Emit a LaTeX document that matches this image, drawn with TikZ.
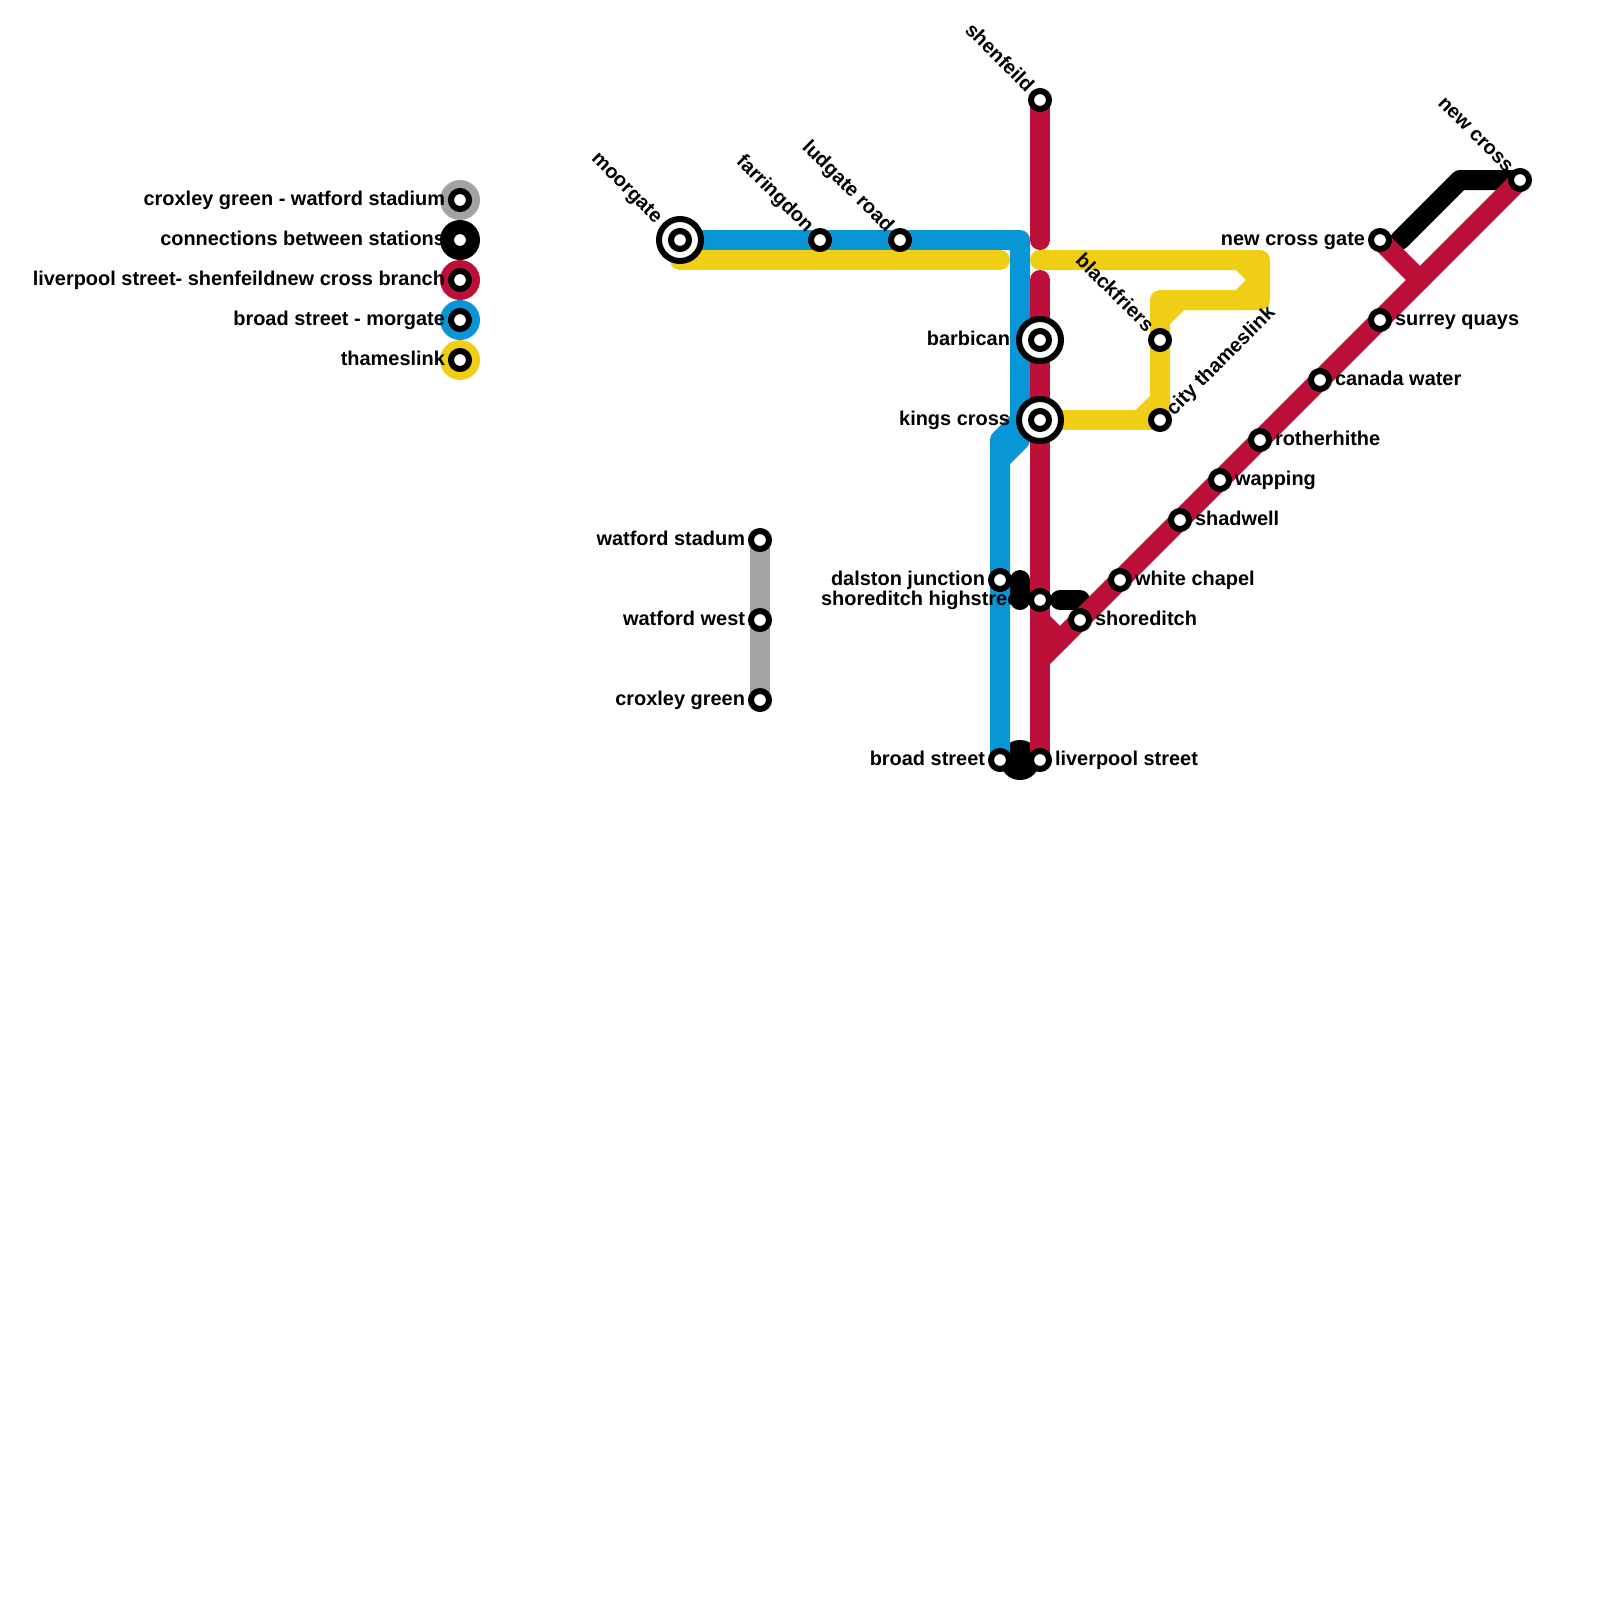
\documentclass[tikz,border=0pt]{standalone}
\usepackage{fontspec}
\setmainfont{Liberation Sans}
\pgfdeclarelayer{conn}
\pgfdeclarelayer{lines}
\pgfsetlayers{conn,lines,main}
\definecolor{lred}{HTML}{BD1038}
\definecolor{lblue}{HTML}{0896D7}
\definecolor{lyellow}{HTML}{F0CE15}
\definecolor{lgrey}{HTML}{A3A3A3}
\tikzset{
  x=0.025cm,y=-0.025cm,
  stn/.style={circle,draw=black,fill=white,line width=0.15cm,minimum size=0.45cm,inner sep=0pt,outer sep=0pt},
  ichange/.style={circle,draw=black,fill=white,line width=0.15cm,minimum size=1.05cm,inner sep=0pt,outer sep=0pt,
    path picture={\draw[black,line width=0.15cm] (path picture bounding box.center) circle (0.225cm);}},
  swatch/.style={circle,minimum size=1cm,inner sep=0pt,outer sep=0pt,fill=#1},
  lab/.style={inner sep=0pt,outer sep=0pt,text=black,font=\fontsize{14.18}{16}\selectfont\bfseries},
  labl/.style={lab,anchor=base east},
  labr/.style={lab,anchor=base west},
  labtl/.style={lab,anchor=base east,rotate=-45},
  labtr/.style={lab,anchor=base west,rotate=45},
  route/.style={line width=0.5cm,line cap=round,line join=round,draw=#1},
  link/.style={line width=0.5cm,line cap=round,line join=round,draw=black},
  linkhub/.style={circle,minimum size=1cm,inner sep=0pt,outer sep=0pt,fill=black},
}
\begin{document}
\begin{tikzpicture}
\useasboundingbox (0,0) rectangle (1600,1600);
% legend swatches
\node[swatch=lgrey] (swgrey) at (460,200) {};
\node[swatch=black] (swblack) at (460,240) {};
\node[swatch=lred] (swred) at (460,280) {};
\node[swatch=lblue] (swblue) at (460,320) {};
\node[swatch=lyellow] (swyellow) at (460,360) {};
% legend labels
\node[labl] (lgA) at (445,205) {croxley green - watford stadium};
\node[labl] (lgB) at (445,245) {connections between stations};
\node[labl] (lgC) at (445,285) {liverpool street- shenfeildnew cross branch};
\node[labl] (lgD) at (445,325) {broad street - morgate};
\node[labl] (lgE) at (445,365) {thameslink};
% station labels
\node[labtl] (tMoor) at (655,224) {moorgate};
\node[labtl] (tFarr) at (806,233) {farringdon};
\node[labtl] (tLud) at (886,233) {ludgate road};
\node[labtl] (tShen) at (1026,93) {shenfeild};
\node[labtl] (tBlack) at (1146,333) {blackfriers};
\node[labtr] (tCity) at (1174,416) {city thameslink};
\node[labtl] (tNew) at (1506,173) {new cross};
\node[labl] (tGate) at (1365,245) {new cross gate};
\node[labl] (tBarb) at (1010,345) {barbican};
\node[labl] (tKing) at (1010,425) {kings cross};
\node[labl] (tStad) at (745,545) {watford stadum};
\node[labl] (tWest) at (745,625) {watford west};
\node[labl] (tCrox) at (745,705) {croxley green};
\node[labl] (tDals) at (985,585) {dalston junction};
\node[labl] (tHigh) at (1025,605) {shoreditch highstreet};
\node[labl] (tBroad) at (985,765) {broad street};
\node[labr] (tLiv) at (1055,765) {liverpool street};
\node[labr] (tSho) at (1095,625) {shoreditch};
\node[labr] (tWhi) at (1135,585) {white chapel};
\node[labr] (tSha) at (1195,525) {shadwell};
\node[labr] (tWap) at (1235,485) {wapping};
\node[labr] (tRot) at (1275,445) {rotherhithe};
\node[labr] (tCan) at (1335,385) {canada water};
\node[labr] (tSur) at (1395,325) {surrey quays};
% legend stations
\node[stn] (kA) at (460,200) {};
\node[stn] (kB) at (460,240) {};
\node[stn] (kC) at (460,280) {};
\node[stn] (kD) at (460,320) {};
\node[stn] (kE) at (460,360) {};
% stations
\node[ichange] (moorgate) at (680,240) {};
\node[stn] (farringdon) at (820,240) {};
\node[stn] (ludgate) at (900,240) {};
\node[stn] (shenfeild) at (1040,100) {};
\node[ichange] (barbican) at (1040,340) {};
\node[ichange] (kings) at (1040,420) {};
\node[stn] (blackfriers) at (1160,340) {};
\node[stn] (city) at (1160,420) {};
\node[stn] (gate) at (1380,240) {};
\node[stn] (newcross) at (1520,180) {};
\node[stn] (surrey) at (1380,320) {};
\node[stn] (canada) at (1320,380) {};
\node[stn] (rother) at (1260,440) {};
\node[stn] (wapping) at (1220,480) {};
\node[stn] (shadwell) at (1180,520) {};
\node[stn] (white) at (1120,580) {};
\node[stn] (shoreditch) at (1080,620) {};
\node[stn] (high) at (1040,600) {};
\node[stn] (dalston) at (1000,580) {};
\node[stn] (broad) at (1000,760) {};
\node[stn] (liverpool) at (1040,760) {};
\node[stn] (stadum) at (760,540) {};
\node[stn] (west) at (760,620) {};
\node[stn] (croxley) at (760,700) {};
% free bend points
\coordinate (bA) at (1020,240);
\coordinate (bB) at (1020,440);
\coordinate (bC) at (1000,460);
\coordinate (bD) at (1020,420);
\coordinate (bE) at (1000,440);
\coordinate (yA) at (1000,260);
\coordinate (yB) at (1040,260);
\coordinate (yC) at (1260,260);
\coordinate (yD) at (1260,300);
\coordinate (yE) at (1180,300);
\coordinate (yF) at (1160,320);
\coordinate (yG) at (1240,260);
\coordinate (yH) at (1260,280);
\coordinate (yI) at (1240,300);
\coordinate (yJ) at (1160,300);
\coordinate (yK) at (1140,420);
\coordinate (yL) at (1160,400);
\coordinate (yM) at (680,260);
\coordinate (rA) at (1040,240);
\coordinate (rB) at (1040,280);
\coordinate (rC) at (1040,620);
\coordinate (rD) at (1060,640);
\coordinate (rE) at (1040,660);
\coordinate (rF) at (1420,280);
\coordinate (cA) at (1400,240);
\coordinate (cB) at (1460,180);
\coordinate (cC) at (1020,580);
\coordinate (cD) at (1020,600);
\coordinate (cE) at (1060,600);
\coordinate (cF) at (1080,600);
\coordinate (cG) at (1020,760);
\begin{pgfonlayer}{conn}
\draw[link] (cA) -- (cB) -- (newcross.center);
\draw[link] (cC) -- (cD);
\draw[link] (cE) -- (cF);
\node[linkhub] (hub) at (cG) {};
\end{pgfonlayer}
\begin{pgfonlayer}{lines}
\draw[route=lgrey] (stadum.center) -- (west.center) -- (croxley.center);
\draw[route=lblue] (moorgate.center) -- (farringdon.center) -- (ludgate.center) -- (bA) -- (bB) -- (bC) -- (broad.center);
\draw[route=lblue] (bD) -- (bE) -- (bC);
\draw[route=lyellow] (yM) -- (yA);
\draw[route=lyellow] (yB) -- (yC) -- (yD) -- (yE) -- (yF) -- (blackfriers.center) -- (city.center);
\draw[route=lyellow] (yG) -- (yH) -- (yI) -- (yJ) -- (yF);
\draw[route=lyellow] (kings.center) -- (city.center);
\draw[route=lyellow] (yK) -- (yL);
\draw[route=lred] (shenfeild.center) -- (rA);
\draw[route=lred] (rB) -- (barbican.center) -- (kings.center) -- (liverpool.center);
\draw[route=lred] (rC) -- (rD) -- (newcross.center);
\draw[route=lred] (rE) -- (rD);
\draw[route=lred] (gate.center) -- (rF);
\end{pgfonlayer}
\end{tikzpicture}
\end{document}
